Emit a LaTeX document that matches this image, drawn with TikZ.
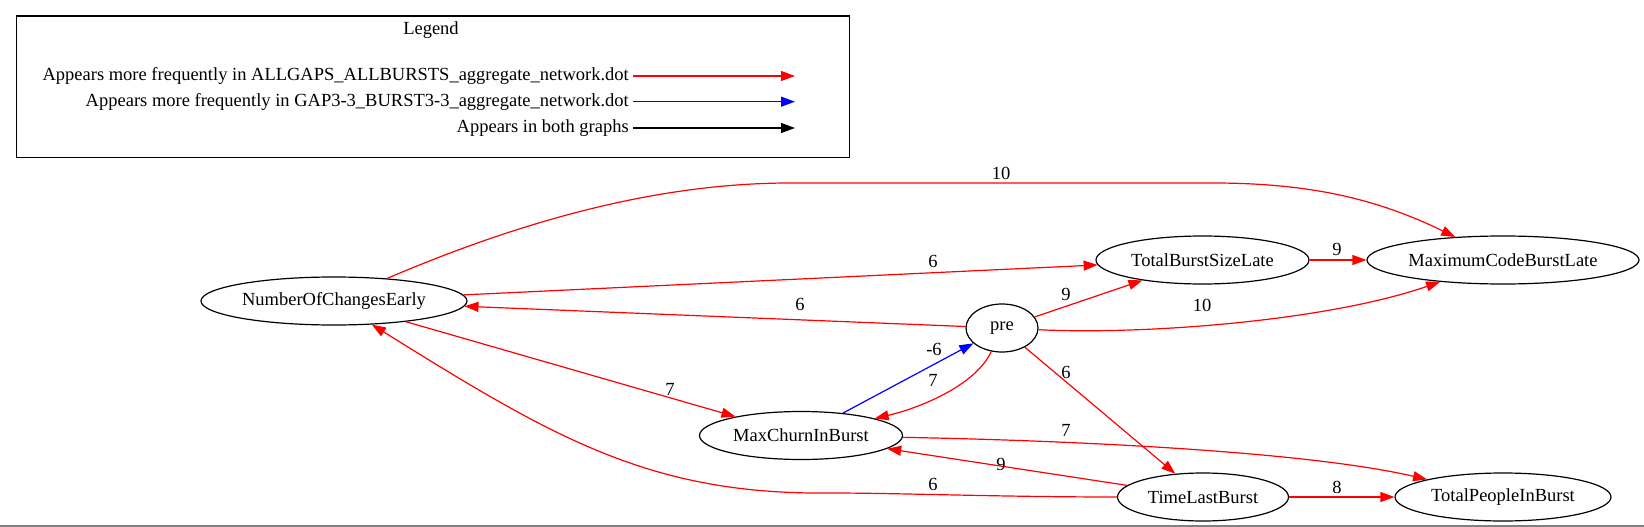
\documentclass[tikz,border=0pt]{standalone}
\usepackage{fontspec}
\setmainfont{Liberation Serif}
\usetikzlibrary{arrows.meta,shapes.geometric}
\begin{document}
\begin{tikzpicture}[x=1pt,y=-1pt,
  gnode/.style={draw, ellipse, line width=1.2pt, inner sep=0pt, minimum height=48pt, font=\fontsize{18.5}{22}\selectfont},
  lbl/.style={inner sep=0pt, font=\fontsize{18.5}{22}\selectfont},
  leglbl/.style={inner sep=0pt, font=\fontsize{18.5}{22}\selectfont},
  edgebase/.style={line width=1.2pt, -{Triangle[length=14pt,width=10pt]}},
  redge/.style={edgebase, red},
  bedge/.style={edgebase, blue},
  kedge/.style={edgebase, black},
]
\useasboundingbox (0,0) rectangle (1644,527);
\coordinate (bl) at (0,525.5);
\coordinate (br) at (1644,525.5);
\draw[line width=2pt, gray] (bl) -- (br);

% legend
\node[draw, line width=1.2pt, minimum width=833pt, minimum height=141pt, inner sep=0pt, anchor=north west] (legendbox) at (15.5,15.5) {};
\node[leglbl] (legtitle) at (431,30) {Legend};
\node[leglbl, anchor=east] (leg1) at (629,76) {Appears more frequently in ALLGAPS\_ALLBURSTS\_aggregate\_network.dot};
\node[leglbl, anchor=east] (leg2) at (629,101.7) {Appears more frequently in GAP3-3\_BURST3-3\_aggregate\_network.dot};
\node[leglbl, anchor=east] (leg3) at (629,128) {Appears in both graphs};
\coordinate (a1s) at (633,76);  \coordinate (a1e) at (795,76);
\coordinate (a2s) at (633,101.7); \coordinate (a2e) at (795,101.7);
\coordinate (a3s) at (633,128); \coordinate (a3e) at (795,128);
\draw[redge] (a1s) -- (a1e);
\draw[bedge] (a2s) -- (a2e);
\draw[kedge] (a3s) -- (a3e);

% nodes
\node[gnode, minimum width=266pt] (noce) at (334,301) {NumberOfChangesEarly};
\node[gnode, minimum width=213pt] (tbsl) at (1202.5,260) {TotalBurstSizeLate};
\node[gnode, minimum width=272pt] (mcbl) at (1503,260) {MaximumCodeBurstLate};
\node[gnode, minimum width=72pt] (pre) at (1002,328) {pre};
\node[gnode, minimum width=203pt] (mcib) at (801,435.5) {MaxChurnInBurst};
\node[gnode, minimum width=171pt] (tlb) at (1203,497) {TimeLastBurst};
\node[gnode, minimum width=216pt] (tpib) at (1503,497) {TotalPeopleInBurst};

% edges
\draw[redge] (noce) .. controls (496,232) and (640,183) .. (790,183) -- (1213,183) .. controls (1320,183) and (1385,203) .. (mcbl);
\draw[redge] (noce) -- (tbsl);
\draw[redge] (pre) -- (noce);
\draw[redge] (noce) -- (mcib);
\draw[bedge] (mcib) -- (pre);
\draw[redge] (pre) .. controls (976,385) and (920,408) .. (mcib);
\draw[redge] (pre) -- (tbsl);
\draw[redge] (pre) .. controls (1150,335) and (1330,320) .. (mcbl);
\draw[redge] (tbsl) -- (mcbl);
\draw[redge] (pre) -- (tlb);
\draw[redge] (mcib) .. controls (1050,440) and (1300,450) .. (tpib);
\draw[redge] (tlb) -- (mcib);
\draw[redge] (tlb) .. controls (1000,497) and (900,493) .. (830,493) .. controls (650,495) and (554,438) .. (noce);
\draw[redge] (tlb) -- (tpib);

% edge labels
\node[lbl] (l1) at (1001,173) {10};
\node[lbl] (l2) at (933,261) {6};
\node[lbl] (l3) at (800,304) {6};
\node[lbl] (l4) at (670,389) {7};
\node[lbl] (l5) at (934,349) {-6};
\node[lbl] (l6) at (933,380) {7};
\node[lbl] (l7) at (1066,294) {9};
\node[lbl] (l8) at (1202,305) {10};
\node[lbl] (l9) at (1337,249) {9};
\node[lbl] (l10) at (1066,372) {6};
\node[lbl] (l11) at (1066,430) {7};
\node[lbl] (l12) at (1001,464) {9};
\node[lbl] (l13) at (933,484) {6};
\node[lbl] (l14) at (1337,487) {8};
\end{tikzpicture}
\end{document}
